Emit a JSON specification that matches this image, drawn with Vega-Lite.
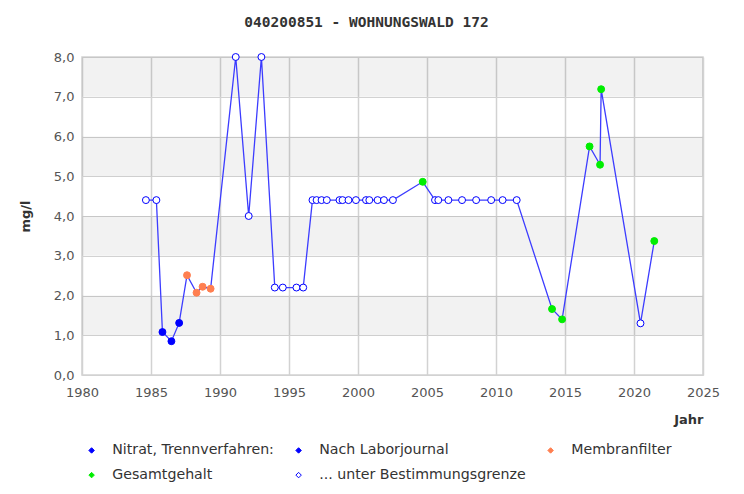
{
  "$schema": "https://vega.github.io/schema/vega-lite/v6.json",
  "width": 621,
  "height": 318,
  "autosize": {"type": "none"},
  "padding": {"left": 82, "top": 57, "right": 41, "bottom": 119},
  "background": "white",
  "title": {
    "text": "040200851 - WOHNUNGSWALD 172",
    "font": "DejaVu Sans Mono",
    "fontSize": 14.5,
    "fontWeight": "bold",
    "color": "#333333",
    "anchor": "middle",
    "dx": -26,
    "baseline": "alphabetic",
    "offset": 10
  },
  "config": {
    "locale": {"number": {"decimal": ",", "thousands": ".", "grouping": [3], "currency": ["", " €"]}},
    "view": {"stroke": "#d2d2d2", "strokeWidth": 1.5},
    "axis": {
      "labelFont": "DejaVu Sans",
      "labelFontSize": 13,
      "labelColor": "#555555",
      "titleFont": "DejaVu Sans",
      "titleFontSize": 13,
      "titleFontWeight": "bold",
      "titleColor": "#333333",
      "grid": true,
      "gridColor": "#d2d2d2",
      "gridWidth": 1,
      "gridOpacity": 1,
      "ticks": false,
      "domain": false,
      "labelOverlap": false,
      "labelFlush": false
    },
    "axisX": {"gridWidth": 1.5}
  },
  "layer": [
    {
      "data": {"values": [{"lo": 1, "hi": 2}, {"lo": 3, "hi": 4}, {"lo": 5, "hi": 6}, {"lo": 7, "hi": 8}]},
      "mark": {"type": "rect", "fill": "#000000", "opacity": 0.05},
      "encoding": {
        "y": {"field": "lo", "type": "quantitative", "scale": {"domain": [0, 8], "nice": false},
          "axis": {"title": "mg/l", "grid": true, "values": [0, 1, 2, 3, 4, 5, 6, 7, 8], "format": ".1f", "labelPadding": 8, "titlePadding": 21}},
        "y2": {"field": "hi"}
      }
    },
    {
      "data": {"name": "pts"},
      "mark": {"type": "line", "color": "#3c3cff", "strokeWidth": 1.3},
      "encoding": {
        "x": {"field": "year", "type": "quantitative", "scale": {"domain": [1980, 2025], "nice": false, "zero": false},
          "axis": {"title": "Jahr", "grid": true, "gridWidth": 1.5, "values": [1980, 1985, 1990, 1995, 2000, 2005, 2010, 2015, 2020, 2025], "format": "d", "labelPadding": 11, "titleAnchor": "end", "titlePadding": 14}},
        "y": {"field": "value", "type": "quantitative", "scale": {"domain": [0, 8], "nice": false},
          "axis": {"title": "mg/l", "grid": true, "values": [0, 1, 2, 3, 4, 5, 6, 7, 8], "format": ".1f", "labelPadding": 8, "titlePadding": 21}}
      }
    },
    {
      "data": {"name": "pts"},
      "mark": {"type": "point", "shape": "circle", "filled": true, "size": 48, "strokeWidth": 1, "opacity": 1},
      "encoding": {
        "x": {"field": "year", "type": "quantitative", "scale": {"domain": [1980, 2025], "nice": false, "zero": false},
          "axis": {"title": "Jahr", "grid": true, "gridWidth": 1.5, "values": [1980, 1985, 1990, 1995, 2000, 2005, 2010, 2015, 2020, 2025], "format": "d", "labelPadding": 11, "titleAnchor": "end", "titlePadding": 14}},
        "y": {"field": "value", "type": "quantitative", "scale": {"domain": [0, 8], "nice": false},
          "axis": {"title": "mg/l", "grid": true, "values": [0, 1, 2, 3, 4, 5, 6, 7, 8], "format": ".1f", "labelPadding": 8, "titlePadding": 21}},
        "fill": {"field": "cat", "type": "nominal",
          "scale": {"domain": ["Nitrat, Trennverfahren:", "Gesamtgehalt", "Nach Laborjournal", "... unter Bestimmungsgrenze", "Membranfilter"],
            "range": ["#0000ff", "#00ee00", "#0000ff", "#ffffff", "#ff7f50"]},
          "legend": {"title": null, "orient": "none", "legendX": 2.5, "legendY": 386, "columns": 3, "symbolType": "diamond", "symbolSize": 30, "symbolStrokeWidth": 1, "labelFont": "DejaVu Sans", "labelFontSize": 14.2, "labelColor": "#333333", "labelLimit": 400, "labelOffset": 13.5, "columnPadding": 17, "rowPadding": 10, "padding": 0}},
        "stroke": {"field": "cat", "type": "nominal",
          "scale": {"domain": ["Nitrat, Trennverfahren:", "Gesamtgehalt", "Nach Laborjournal", "... unter Bestimmungsgrenze", "Membranfilter"],
            "range": ["#0000ff", "#00ee00", "#0000ff", "#0000ff", "#ff7f50"]},
          "legend": {"title": null, "orient": "none", "legendX": 2.5, "legendY": 386, "columns": 3, "symbolType": "diamond", "symbolSize": 30, "symbolStrokeWidth": 1, "labelFont": "DejaVu Sans", "labelFontSize": 14.2, "labelColor": "#333333", "labelLimit": 400, "labelOffset": 13.5, "columnPadding": 17, "rowPadding": 10, "padding": 0}}
      }
    }
  ],
  "datasets": {
    "pts": [
      {"year": 1984.63, "value": 4.4, "cat": "... unter Bestimmungsgrenze"},
      {"year": 1985.39, "value": 4.4, "cat": "... unter Bestimmungsgrenze"},
      {"year": 1985.83, "value": 1.08, "cat": "Nach Laborjournal"},
      {"year": 1986.48, "value": 0.85, "cat": "Nach Laborjournal"},
      {"year": 1987.04, "value": 1.31, "cat": "Nach Laborjournal"},
      {"year": 1987.61, "value": 2.51, "cat": "Membranfilter"},
      {"year": 1988.3, "value": 2.07, "cat": "Membranfilter"},
      {"year": 1988.74, "value": 2.22, "cat": "Membranfilter"},
      {"year": 1989.32, "value": 2.17, "cat": "Membranfilter"},
      {"year": 1991.14, "value": 8.0, "cat": "... unter Bestimmungsgrenze"},
      {"year": 1992.08, "value": 4.0, "cat": "... unter Bestimmungsgrenze"},
      {"year": 1993.0, "value": 8.0, "cat": "... unter Bestimmungsgrenze"},
      {"year": 1993.97, "value": 2.2, "cat": "... unter Bestimmungsgrenze"},
      {"year": 1994.55, "value": 2.2, "cat": "... unter Bestimmungsgrenze"},
      {"year": 1995.54, "value": 2.2, "cat": "... unter Bestimmungsgrenze"},
      {"year": 1996.03, "value": 2.2, "cat": "... unter Bestimmungsgrenze"},
      {"year": 1996.7, "value": 4.4, "cat": "... unter Bestimmungsgrenze"},
      {"year": 1997.0, "value": 4.4, "cat": "... unter Bestimmungsgrenze"},
      {"year": 1997.36, "value": 4.4, "cat": "... unter Bestimmungsgrenze"},
      {"year": 1997.74, "value": 4.4, "cat": "... unter Bestimmungsgrenze"},
      {"year": 1998.66, "value": 4.4, "cat": "... unter Bestimmungsgrenze"},
      {"year": 1998.88, "value": 4.4, "cat": "... unter Bestimmungsgrenze"},
      {"year": 1999.31, "value": 4.4, "cat": "... unter Bestimmungsgrenze"},
      {"year": 1999.85, "value": 4.4, "cat": "... unter Bestimmungsgrenze"},
      {"year": 2000.58, "value": 4.4, "cat": "... unter Bestimmungsgrenze"},
      {"year": 2000.82, "value": 4.4, "cat": "... unter Bestimmungsgrenze"},
      {"year": 2001.42, "value": 4.4, "cat": "... unter Bestimmungsgrenze"},
      {"year": 2001.88, "value": 4.4, "cat": "... unter Bestimmungsgrenze"},
      {"year": 2002.53, "value": 4.4, "cat": "... unter Bestimmungsgrenze"},
      {"year": 2004.69, "value": 4.86, "cat": "Gesamtgehalt"},
      {"year": 2005.58, "value": 4.4, "cat": "... unter Bestimmungsgrenze"},
      {"year": 2005.82, "value": 4.4, "cat": "... unter Bestimmungsgrenze"},
      {"year": 2006.55, "value": 4.4, "cat": "... unter Bestimmungsgrenze"},
      {"year": 2007.54, "value": 4.4, "cat": "... unter Bestimmungsgrenze"},
      {"year": 2008.56, "value": 4.4, "cat": "... unter Bestimmungsgrenze"},
      {"year": 2009.65, "value": 4.4, "cat": "... unter Bestimmungsgrenze"},
      {"year": 2010.48, "value": 4.4, "cat": "... unter Bestimmungsgrenze"},
      {"year": 2011.5, "value": 4.4, "cat": "... unter Bestimmungsgrenze"},
      {"year": 2014.06, "value": 1.66, "cat": "Gesamtgehalt"},
      {"year": 2014.79, "value": 1.4, "cat": "Gesamtgehalt"},
      {"year": 2016.78, "value": 5.75, "cat": "Gesamtgehalt"},
      {"year": 2017.54, "value": 5.29, "cat": "Gesamtgehalt"},
      {"year": 2017.62, "value": 7.19, "cat": "Gesamtgehalt"},
      {"year": 2020.47, "value": 1.3, "cat": "... unter Bestimmungsgrenze"},
      {"year": 2021.47, "value": 3.37, "cat": "Gesamtgehalt"}
    ]
  }
}
